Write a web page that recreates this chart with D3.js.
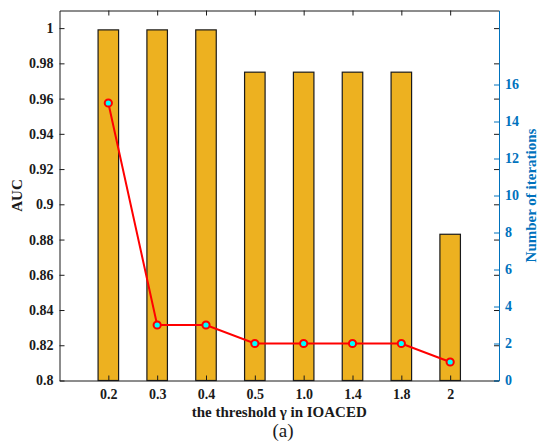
<!DOCTYPE html>
<html>
<head>
<meta charset="utf-8">
<script src="https://cdn.jsdelivr.net/npm/d3@7"></script>
<style>
  body { margin: 0; background: #fff; }
  svg text { font-family: "Liberation Serif", "Times New Roman", serif; }
</style>
</head>
<body>
<svg id="chart" width="538" height="442"></svg>
<script>
// data
const thresholds = ["0.2", "0.3", "0.4", "0.5", "1.0", "1.4", "1.8", "2"];
const aucValues = [0.999, 0.999, 0.999, 0.975, 0.975, 0.975, 0.975, 0.883];
const iterations = [15, 3, 3, 2, 2, 2, 2, 1];
const aucTicks = [0.8, 0.82, 0.84, 0.86, 0.88, 0.9, 0.92, 0.94, 0.96, 0.98, 1];
const iterTicks = [0, 2, 4, 6, 8, 10, 12, 14, 16];

const blue = "#0072BD";
const margin = { top: 10.5, right: 39, bottom: 61.5, left: 59.5 };
const svg = d3.select("#chart");
const W = 538, H = 442;
const width = W - margin.left - margin.right;
const height = H - margin.top - margin.bottom;

const g = svg.append("g")
  .attr("transform", `translate(${margin.left}, ${margin.top})`);

const x = d3.scaleLinear().domain([0, thresholds.length + 1]).range([0, width]);
const yL = d3.scaleLinear().domain([0.8, 1.01]).range([height, 0]);
const yR = d3.scaleLinear().domain([0, 20]).range([height, 0]);

const barW = x(0.42) - x(0);

// bars
g.selectAll(".bar")
  .data(aucValues)
  .enter().append("rect")
  .attr("class", "bar")
  .attr("x", (d, i) => x(i + 1) - barW / 2)
  .attr("y", d => yL(d))
  .attr("width", barW)
  .attr("height", d => height - yL(d))
  .attr("fill", "#EDB120")
  .attr("stroke", "#1a1a1a")
  .attr("stroke-width", 1.2);

// axes
const fmt = d => String(+d.toFixed(2));
const styleAxis = (sel, color) => {
  sel.selectAll("path, line").attr("stroke", color).attr("stroke-width", 1);
  sel.selectAll("text")
    .attr("fill", color)
    .style("font-size", "14px")
    .style("font-weight", "bold")
    .style("font-family", "'Liberation Serif', serif");
};

g.append("g")
  .call(d3.axisLeft(yL).tickValues(aucTicks).tickFormat(fmt)
    .tickSizeInner(-5).tickSizeOuter(0).tickPadding(6))
  .call(s => styleAxis(s, "#1a1a1a"));

g.append("g")
  .attr("transform", `translate(${width}, 0)`)
  .call(d3.axisRight(yL).tickValues(aucTicks).tickFormat("")
    .tickSizeInner(-5).tickSizeOuter(0))
  .call(s => styleAxis(s, "#1a1a1a"));

g.append("g")
  .attr("transform", `translate(0, ${height})`)
  .call(d3.axisBottom(x).tickValues(d3.range(1, thresholds.length + 1))
    .tickFormat(i => thresholds[i - 1])
    .tickSizeInner(-5).tickSizeOuter(0).tickPadding(9))
  .call(s => styleAxis(s, "#1a1a1a"));

g.append("g")
  .call(d3.axisTop(x).tickValues(d3.range(1, thresholds.length + 1)).tickFormat("")
    .tickSizeInner(-5).tickSizeOuter(0))
  .call(s => styleAxis(s, "#1a1a1a"));

g.append("g")
  .attr("transform", `translate(${width}, 0)`)
  .call(d3.axisRight(yR).tickValues(iterTicks)
    .tickSizeInner(-5).tickSizeOuter(0).tickPadding(6))
  .call(s => styleAxis(s, blue));

// iteration line
const line = d3.line()
  .x((d, i) => x(i + 1))
  .y(d => yR(d));

g.append("path")
  .datum(iterations)
  .attr("d", line)
  .attr("fill", "none")
  .attr("stroke", "#FF0000")
  .attr("stroke-width", 2);

g.selectAll(".pt")
  .data(iterations)
  .enter().append("circle")
  .attr("class", "pt")
  .attr("cx", (d, i) => x(i + 1))
  .attr("cy", d => yR(d))
  .attr("r", 3.6)
  .attr("fill", "#00FFFF")
  .attr("stroke", "#FF0000")
  .attr("stroke-width", 2);

// labels
svg.append("text")
  .attr("transform", `translate(22, ${margin.top + height / 2}) rotate(-90)`)
  .attr("text-anchor", "middle")
  .style("font-size", "15px")
  .style("font-weight", "bold")
  .attr("fill", "#1a1a1a")
  .text("AUC");

svg.append("text")
  .attr("transform", `translate(536, ${margin.top + height / 2}) rotate(-90)`)
  .attr("text-anchor", "middle")
  .style("font-size", "15px")
  .style("font-weight", "bold")
  .attr("fill", blue)
  .text("Number of iterations");

svg.append("text")
  .attr("x", margin.left + width / 2)
  .attr("y", 417)
  .attr("text-anchor", "middle")
  .style("font-size", "15px")
  .style("font-weight", "bold")
  .attr("fill", "#1a1a1a")
  .text("the threshold γ in IOACED");

svg.append("text")
  .attr("x", 283)
  .attr("y", 437)
  .attr("text-anchor", "middle")
  .style("font-size", "19px")
  .attr("fill", "#1a1a1a")
  .text("(a)");
</script>
</body>
</html>
